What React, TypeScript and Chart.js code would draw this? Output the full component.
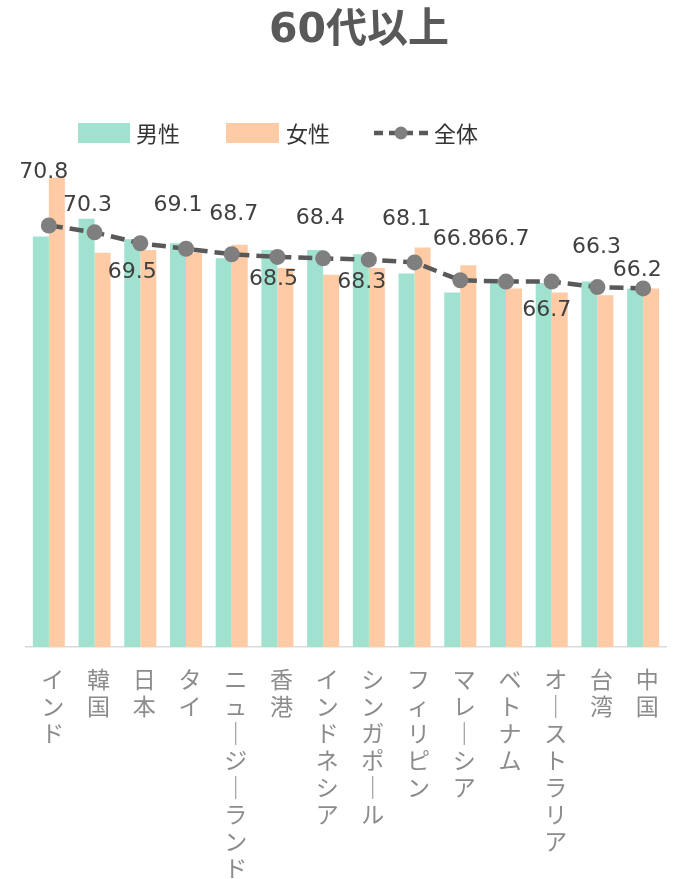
import React, { useEffect, useRef } from 'react';
import { Chart, registerables } from 'chart.js';

Chart.register(...registerables);

const titleText = '60代以上';
const seriesNames = ['男性', '女性', '全体'];
const categories = ['インド', '韓国', '日本', 'タイ', 'ニュージーランド', '香港', 'インドネシア', 'シンガポール', 'フィリピン', 'マレーシア', 'ベトナム', 'オーストラリア', '台湾', '中国'];
const maleValues = [70.0, 71.3, 69.8, 69.5, 68.4, 69.0, 69.0, 68.7, 67.3, 65.9, 66.6, 66.6, 66.7, 66.2];
const femaleValues = [74.3, 68.8, 69.0, 68.8, 69.4, 67.7, 67.2, 67.7, 69.2, 67.9, 66.2, 65.9, 65.7, 66.2];
const totalValues = [70.8, 70.3, 69.5, 69.1, 68.7, 68.5, 68.4, 68.3, 68.1, 66.8, 66.7, 66.7, 66.3, 66.2];
const yMin = 40;
const yMax = 75;

// label placement relative to each 全体 point (style only)
const labelOffsets: [number, number][] = [
  [-5, -53], [-7, -27], [-8, 29], [-8, -43], [2, -40], [-4, 22], [-3, -40],
  [-7, 23], [-8, -43], [-3, -41], [-1, -42], [-5, 29], [-1, -40], [-6, -18],
];

const MALE = '#A0E1D0';
const FEMALE = '#FFCBA4';
const LINE = '#595959';
const POINT = '#7F7F7F';

const verticalize = (s: string) => Array.from(s).map((c) => (c === 'ー' ? '｜' : c));

const overlayPlugin = {
  id: 'overlay',
  afterDatasetsDraw(chart: any) {
    const ctx = chart.ctx;
    const meta = chart.getDatasetMeta(2);
    ctx.save();
    ctx.font = '22px "DejaVu Sans"';
    ctx.fillStyle = '#404040';
    ctx.textAlign = 'center';
    ctx.textBaseline = 'middle';
    meta.data.forEach((pt: any, i: number) => {
      const [dx, dy] = labelOffsets[i];
      ctx.fillText(totalValues[i].toFixed(1), pt.x + dx, pt.y + dy);
    });
    ctx.restore();
  },
  afterDraw(chart: any) {
    const ctx = chart.ctx;
    ctx.save();
    // title
    ctx.font = 'bold 41px "DejaVu Sans", "Noto Sans CJK JP"';
    ctx.fillStyle = '#595959';
    ctx.textAlign = 'center';
    ctx.textBaseline = 'middle';
    ctx.fillText(titleText, 359, 31);
    // legend
    const ly = 133;
    ctx.font = '22px "Noto Sans CJK JP"';
    ctx.textAlign = 'left';
    ctx.fillStyle = MALE;
    ctx.fillRect(78, 123, 52, 20);
    ctx.fillStyle = FEMALE;
    ctx.fillRect(226, 123, 53, 20);
    ctx.strokeStyle = LINE;
    ctx.lineWidth = 4.5;
    ctx.setLineDash([9, 6]);
    ctx.beginPath();
    ctx.moveTo(374, ly);
    ctx.lineTo(428, ly);
    ctx.stroke();
    ctx.setLineDash([]);
    ctx.fillStyle = POINT;
    ctx.beginPath();
    ctx.arc(401, ly, 6.5, 0, Math.PI * 2);
    ctx.fill();
    ctx.fillStyle = '#333333';
    ctx.fillText(seriesNames[0], 136, ly + 1);
    ctx.fillText(seriesNames[1], 286, ly + 1);
    ctx.fillText(seriesNames[2], 434, ly + 1);
    ctx.restore();
  },
};

export default function App() {
  const ref = useRef<HTMLCanvasElement | null>(null);
  useEffect(() => {
    if (!ref.current) return;
    const chart = new Chart(ref.current, {
      type: 'bar',
      data: {
        labels: categories,
        datasets: [
          {
            type: 'bar',
            label: seriesNames[0],
            data: maleValues,
            backgroundColor: MALE,
            borderWidth: 0,
            categoryPercentage: 0.7,
            barPercentage: 1.0,
            order: 2,
          },
          {
            type: 'bar',
            label: seriesNames[1],
            data: femaleValues,
            backgroundColor: FEMALE,
            borderWidth: 0,
            categoryPercentage: 0.7,
            barPercentage: 1.0,
            order: 2,
          },
          {
            type: 'line',
            label: seriesNames[2],
            data: totalValues,
            borderColor: LINE,
            borderWidth: 4.5,
            borderDash: [14, 7],
            pointRadius: 8,
            pointHoverRadius: 8,
            pointBackgroundColor: POINT,
            pointBorderColor: POINT,
            pointBorderWidth: 0,
            tension: 0,
            fill: false,
            order: 0,
          } as any,
        ],
      },
      options: {
        animation: false,
        responsive: true,
        maintainAspectRatio: false,
        layout: { padding: { top: 168, left: 26, right: 7, bottom: 0 } },
        plugins: {
          legend: { display: false },
          title: { display: false },
          tooltip: { enabled: false },
        },
        scales: {
          x: {
            grid: { display: false, drawTicks: false },
            border: { display: true, color: '#D9D9D9', width: 1.5 },
            afterFit: (scale: any) => {
              scale.height = 232;
            },
            ticks: {
              autoSkip: false,
              maxRotation: 0,
              minRotation: 0,
              padding: 19,
              labelOffset: 4,
              color: '#8C8C8C',
              font: { family: '"Noto Sans CJK JP"', size: 23, lineHeight: '27px' },
              callback: (_v: any, i: number) => verticalize(categories[i]),
            },
          },
          y: {
            display: false,
            min: yMin,
            max: yMax,
          },
        },
      },
      plugins: [overlayPlugin],
    });
    return () => chart.destroy();
  }, []);
  return (
    <div style={{ position: 'absolute', left: 0, top: 0, width: 674, height: 879 }}>
      <canvas ref={ref} />
    </div>
  );
}
